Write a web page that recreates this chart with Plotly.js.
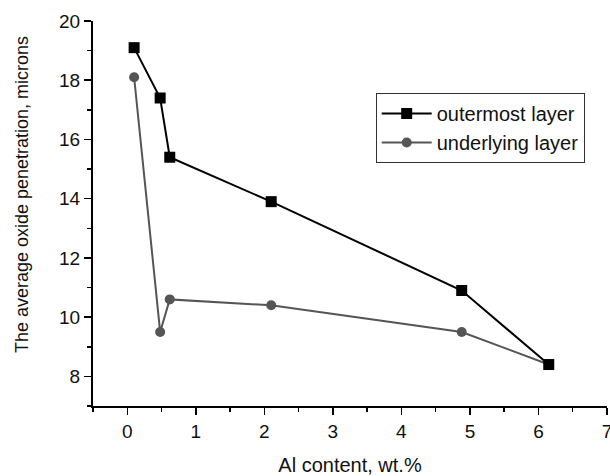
<!DOCTYPE html>
<html>
<head>
<meta charset="utf-8">
<script src="https://cdn.plot.ly/plotly-3.0.1.min.js"></script>
<style>html,body{margin:0;padding:0;background:#fff;}#chart{width:610px;height:476px;}</style>
</head>
<body>
<div id="chart"></div>
<script>
const alContent = [0.1, 0.48, 0.62, 2.1, 4.88, 6.15];
const outermost = [19.1, 17.4, 15.4, 13.9, 10.9, 8.4];
const underlying = [18.1, 9.5, 10.6, 10.4, 9.5, 8.4];
const seriesNames = ["outermost layer", "underlying layer"];
const xTicks = [0, 1, 2, 3, 4, 5, 6, 7];
const yTicks = [8, 10, 12, 14, 16, 18, 20];
const xTitle = "Al content, wt.%";
const yTitle = "The average oxide penetration, microns";

const font = "Liberation Sans, Arial, sans-serif";
const fs = 19;

const data = [
  {
    x: alContent, y: underlying, name: seriesNames[1], type: "scatter", mode: "lines+markers",
    line: {color: "#555555", width: 2},
    marker: {symbol: "circle", size: 10, color: "#555555"}
  },
  {
    x: alContent, y: outermost, name: seriesNames[0], type: "scatter", mode: "lines+markers",
    line: {color: "#000000", width: 2},
    marker: {symbol: "square", size: 11, color: "#000000"}
  }
];

const layout = {
  width: 610, height: 476,
  margin: {l: 93, r: 3, t: 21, b: 70},
  paper_bgcolor: "#fff", plot_bgcolor: "#fff",
  font: {family: font, size: fs, color: "#111"},
  showlegend: true,
  legend: {
    x: 0.55, y: 0.813, xanchor: "left", yanchor: "top",
    bordercolor: "#333", borderwidth: 1, bgcolor: "#fff",
    font: {family: font, size: 20, color: "#111"},
    traceorder: "reversed",
    itemwidth: 50, tracegroupgap: 0
  },
  xaxis: {
    range: [-0.5, 7], showgrid: false, zeroline: false,
    showline: true, linecolor: "#000", linewidth: 2,
    tickmode: "array", tickvals: xTicks, ticks: "outside", ticklen: 7, tickwidth: 1.5, tickcolor: "#000",
    minor: {dtick: 0.5, tick0: 0, ticks: "outside", ticklen: 4, tickwidth: 1.5, tickcolor: "#000"},
    tickfont: {family: font, size: fs, color: "#111"},
    ticklabeloverflow: "allow",
    title: {text: xTitle, font: {family: font, size: 20, color: "#111"}, standoff: 20}
  },
  yaxis: {
    range: [7, 20], showgrid: false, zeroline: false,
    showline: true, linecolor: "#000", linewidth: 2,
    tickmode: "array", tickvals: yTicks, ticks: "outside", ticklen: 7, tickwidth: 1.5, tickcolor: "#000",
    minor: {dtick: 1, tick0: 7, ticks: "outside", ticklen: 4, tickwidth: 1.5, tickcolor: "#000"},
    tickfont: {family: font, size: fs, color: "#111"},
    ticklabeloverflow: "allow"
  },
  annotations: [{
    text: yTitle, textangle: -90, showarrow: false,
    xref: "paper", yref: "paper", x: -0.138, y: 0.548, xanchor: "center", yanchor: "middle",
    font: {family: font, size: 18, color: "#111"}
  }]
};

Plotly.newPlot("chart", data, layout, {displayModeBar: false, staticPlot: true});
</script>
</body>
</html>
